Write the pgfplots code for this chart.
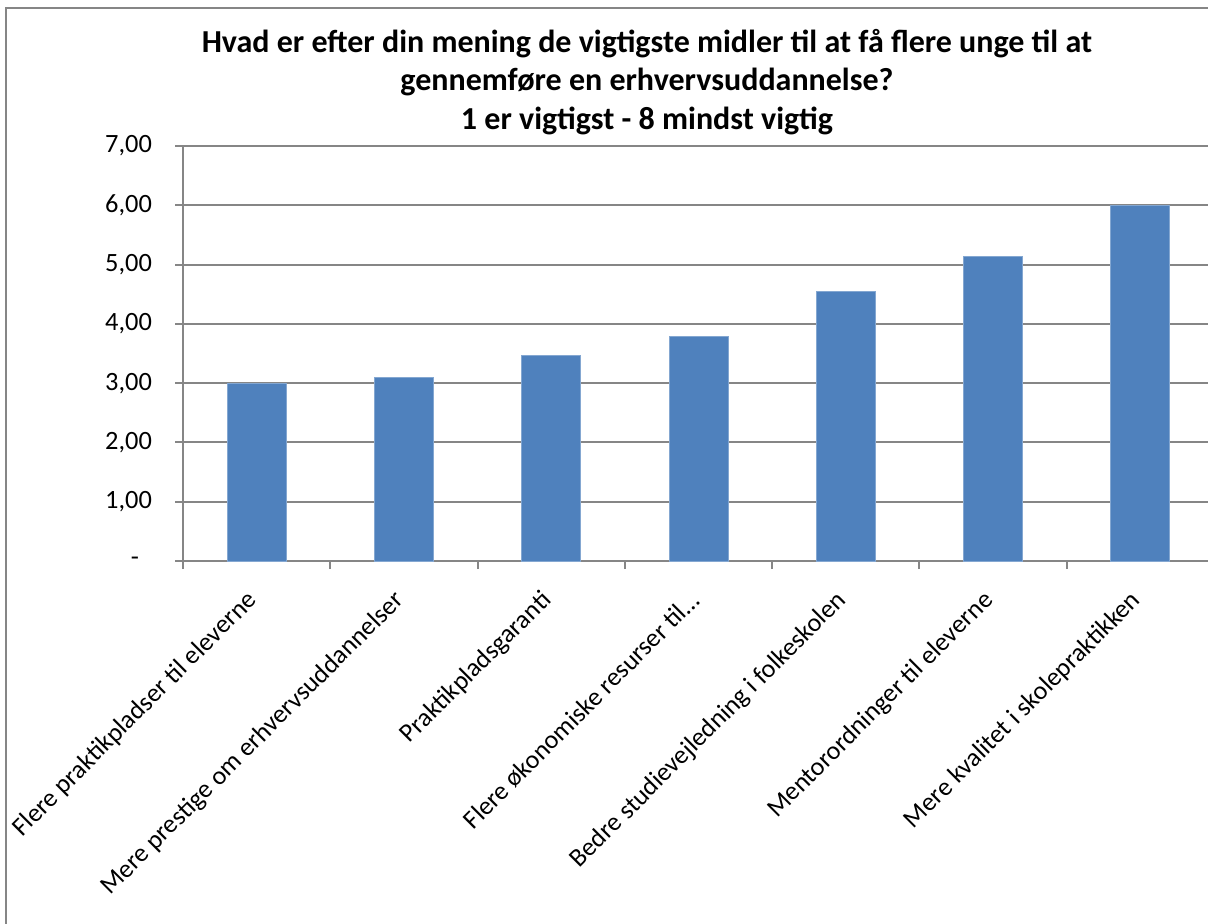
\documentclass[border=0pt]{standalone}
\usepackage{pgfplots}
\pgfplotsset{compat=1.18}
\usepackage{fontspec}
\setmainfont{Carlito}
\definecolor{barblue}{RGB}{79,129,189}
\definecolor{axisgray}{RGB}{134,134,134}
\begin{document}
\begin{tikzpicture}
\path[use as bounding box] (0pt,0pt) rectangle (604pt,-461.5pt);
\clip (0pt,0pt) rectangle (604pt,-461.5pt);
\draw[axisgray, line width=1pt] (3pt,-470pt) -- (3pt,-4pt) -- (620pt,-4pt);
\begin{axis}[
  at={(91.5pt,-280.5pt)}, anchor=south west,
  scale only axis,
  width=515.5pt, height=207.5pt,
  xmin=-0.5, xmax=6.5, ymin=0, ymax=7,
  axis x line*=bottom, axis y line*=left,
  axis line style={axisgray, line width=1pt, -},
  ytick={0,1,2,3,4,5,6,7},
  yticklabels={{-\rule{6.5pt}{0pt}},{1,00},{2,00},{3,00},{4,00},{5,00},{6,00},{7,00}},
  ymajorgrids,
  grid style={axisgray, line width=1pt},
  tick align=outside,
  major tick length=4pt,
  tick style={axisgray, line width=1pt},
  xtick={-0.5,0.5,...,6.5},
  xticklabels={},
  extra x ticks={0,1,2,3,4,5,6},
  extra x tick labels={Flere praktikpladser til eleverne,Mere prestige om erhvervsuddannelser,Praktikpladsgaranti,Flere økonomiske resurser til…,Bedre studievejledning i folkeskolen,Mentorordninger til eleverne,Mere kvalitet i skolepraktikken},
  extra x tick style={tick style={draw=none}, grid=none},
  xticklabel style={xshift=-1pt, yshift=-13pt, rotate=45, anchor=east, inner sep=1pt, font=\fontsize{13}{15}\selectfont},
  yticklabel style={font=\fontsize{13.2}{15}\selectfont, xshift=-8pt},
  ]
\addplot[ybar, bar width=29.5pt, fill=barblue, draw=barblue!70!white, line width=0.5pt] coordinates {
 (0,3.00) (1,3.10) (2,3.47) (3,3.79) (4,4.55) (5,5.13) (6,5.99)
};
\end{axis}
\node[anchor=north, align=center, inner sep=0pt, font=\fontsize{16}{19.3}\selectfont\bfseries] at (323.5pt,-14.3pt)
 {Hvad er efter din mening de vigtigste midler til at få flere unge til at\\gennemføre en erhvervsuddannelse?\\1 er vigtigst - 8 mindst vigtig};
\end{tikzpicture}
\end{document}
